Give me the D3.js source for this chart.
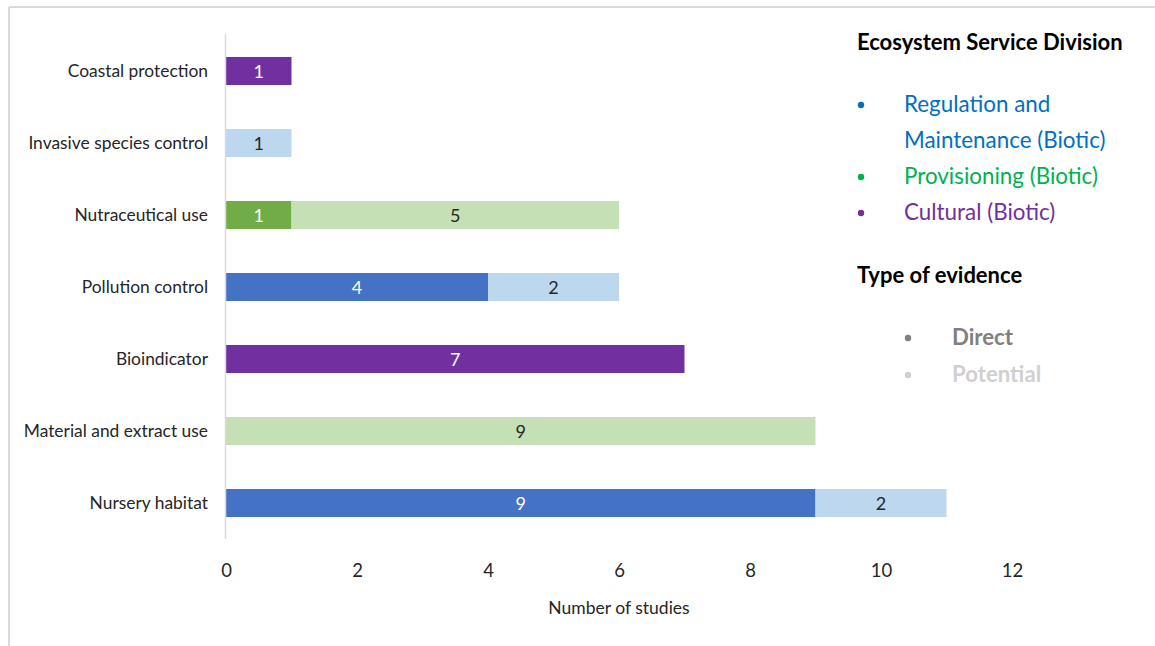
<!DOCTYPE html>
<html>
<head>
<meta charset="utf-8">
<script src="https://cdn.jsdelivr.net/npm/d3@7"></script>
<style>
  html, body { margin: 0; padding: 0; background: #fff; }
  svg { display: block; }
  text { font-family: Lato, "Open Sans", "Noto Sans", sans-serif; }
</style>
</head>
<body>
<svg id="chart" width="1155" height="646"></svg>
<script>
// Ecosystem services: number of studies per service, by type of evidence
const categories = [
  "Coastal protection",
  "Invasive species control",
  "Nutraceutical use",
  "Pollution control",
  "Bioindicator",
  "Material and extract use",
  "Nursery habitat"
];
const divisions = ["Cultural", "Regulation", "Provisioning", "Regulation", "Cultural", "Provisioning", "Regulation"];
const directStudies    = [1, 0, 1, 4, 7, 0, 9];
const potentialStudies = [0, 1, 5, 2, 0, 9, 2];
const xTicks = [0, 2, 4, 6, 8, 10, 12];

const divisionLegend = [
  { key: "Regulation", lines: ["Regulation and", "Maintenance (Biotic)"], color: "#0070C0" },
  { key: "Provisioning", lines: ["Provisioning (Biotic)"], color: "#00B050" },
  { key: "Cultural", lines: ["Cultural (Biotic)"], color: "#7030A0" }
];
const evidenceLegend = [
  { label: "Direct", color: "#808080" },
  { label: "Potential", color: "#D0D0D0" }
];

const fill = {
  Regulation:   { direct: "#4472C4", potential: "#BDD7EE" },
  Provisioning: { direct: "#70AD47", potential: "#C5E0B4" },
  Cultural:     { direct: "#7030A0", potential: "#C9A9E0" }
};

const svg = d3.select("#chart");

// outer frame (top and left edges visible)
svg.append("line").attr("x1", 9).attr("x2", 1155).attr("y1", 7).attr("y2", 7)
  .attr("stroke", "#D9D9D9").attr("stroke-width", 2);
svg.append("line").attr("x1", 9).attr("x2", 9).attr("y1", 7).attr("y2", 646)
  .attr("stroke", "#D9D9D9").attr("stroke-width", 2);

const x = d3.scaleLinear().domain([0, 12]).range([226, 1012]);
const y = d3.scaleBand().domain(categories).range([35, 539]).paddingInner(0.611).paddingOuter(0.3055);

// segments
const segs = [];
categories.forEach((c, i) => {
  const div = divisions[i];
  if (directStudies[i] > 0)
    segs.push({ cat: c, x0: 0, x1: directStudies[i], v: directStudies[i], color: fill[div].direct, textColor: "#FFFFFF" });
  if (potentialStudies[i] > 0)
    segs.push({ cat: c, x0: directStudies[i], x1: directStudies[i] + potentialStudies[i], v: potentialStudies[i], color: fill[div].potential, textColor: "#262626" });
});

const g = svg.append("g");
g.selectAll("rect.seg").data(segs).join("rect")
  .attr("class", "seg")
  .attr("x", d => x(d.x0))
  .attr("width", d => x(d.x1) - x(d.x0))
  .attr("y", d => y(d.cat))
  .attr("height", y.bandwidth())
  .attr("fill", d => d.color);

g.selectAll("text.val").data(segs).join("text")
  .attr("class", "val")
  .attr("x", d => (x(d.x0) + x(d.x1)) / 2)
  .attr("y", d => y(d.cat) + y.bandwidth() / 2)
  .attr("dy", "0.4em")
  .attr("text-anchor", "middle")
  .attr("font-size", 18)
  .attr("fill", d => d.textColor)
  .text(d => d.v);

// vertical category axis line
svg.append("line").attr("x1", 225.5).attr("x2", 225.5).attr("y1", 34).attr("y2", 539)
  .attr("stroke", "#D9D9D9").attr("stroke-width", 1.5);

// category labels
const yAxis = d3.axisLeft(y).tickSize(0).tickPadding(18);
const ya = svg.append("g").attr("transform", "translate(226,0)").call(yAxis);
ya.select(".domain").remove();
ya.selectAll("text").attr("font-size", 17.4).attr("fill", "#262626")
  .style("font-family", 'Lato, "Open Sans", sans-serif');

// value axis (labels only)
const xAxis = d3.axisBottom(x).tickValues(xTicks).tickSize(0).tickPadding(0);
const xa = svg.append("g").attr("transform", "translate(0,564)").call(xAxis);
xa.select(".domain").remove();
xa.selectAll("text").attr("font-size", 18.5).attr("fill", "#262626")
  .style("font-family", 'Lato, "Open Sans", sans-serif');

svg.append("text").attr("x", x(6)).attr("y", 614).attr("text-anchor", "middle")
  .attr("font-size", 17.5).attr("fill", "#262626").text("Number of studies");

// legend: division
const lg = svg.append("g");
lg.append("text").attr("x", 857).attr("y", 50).attr("font-size", 22).attr("font-weight", "bold")
  .attr("fill", "#000").text("Ecosystem Service Division");
let ly = 112;
divisionLegend.forEach(d => {
  lg.append("circle").attr("cx", 861).attr("cy", ly - 7).attr("r", 3.2).attr("fill", d.color);
  d.lines.forEach((ln, k) => {
    lg.append("text").attr("x", 904).attr("y", ly + k * 36).attr("font-size", 22.4)
      .attr("fill", d.color).text(ln);
  });
  ly += d.lines.length * 36;
});

lg.append("text").attr("x", 857).attr("y", 283).attr("font-size", 22).attr("font-weight", "bold")
  .attr("fill", "#000").text("Type of evidence");
evidenceLegend.forEach((d, i) => {
  const yy = 345 + i * 37;
  lg.append("circle").attr("cx", 908).attr("cy", yy - 7).attr("r", 3.2).attr("fill", d.color);
  lg.append("text").attr("x", 952).attr("y", yy).attr("font-size", 22.2).attr("font-weight", "bold")
    .attr("fill", d.color).text(d.label);
});
</script>
</body>
</html>
